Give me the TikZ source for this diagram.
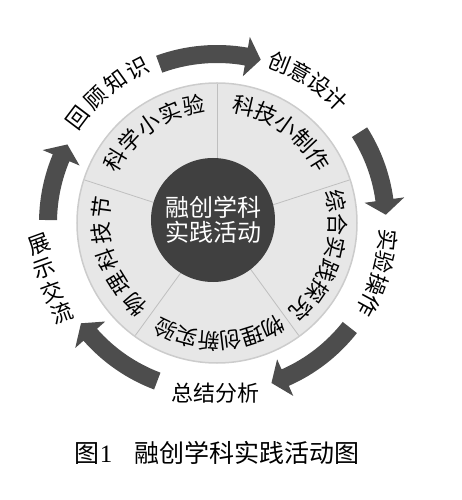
\documentclass[tikz,border=0pt]{standalone}
\usepackage{fontspec}
\setmainfont{Liberation Serif}
\newfontfamily\cjk{Noto Sans CJK SC}
\usepackage{xcolor}
\usepackage{tikz}
\usetikzlibrary{calc,positioning}
\definecolor{hubgray}{HTML}{404040}
\definecolor{ringgray}{HTML}{E7E7E7}
\definecolor{flowgray}{HTML}{4D4D4D}
\tikzstyle{glyph} = [inner sep=0pt, font=\cjk\fontsize{22}{22}\selectfont]
\tikzstyle{flow} = [fill=flowgray]

\begin{document}
\begin{tikzpicture}[
      x = 1pt, y = 1pt,
      node distance = 40pt
    ]
      \useasboundingbox (-217,-277) rectangle (244,223);
      \fill[ringgray, draw=black!20, line width=1.5pt] (0,0) circle (140pt);
      \foreach \a in {90,18,-54,-126,162}
        \draw[black!25, line width=0.8pt] (\a:55pt) -- (\a:139pt);
      \node (hub) [circle, fill=hubgray, minimum size=124pt, inner sep=0pt] at (-4,3) {};
      \node (hubtext) [glyph, text=white, align=center, font=\cjk\fontsize{24}{25}\selectfont] at (hub) {融创学科\\实践活动};
      \foreach \c [count=\i, evaluate=\i as \t using 124.8-(\i-3)*11.75] in {科,学,小,实,验}
        \node (lab\i) [glyph, rotate=\t-90] at (\t:120pt) {\c};
      \foreach \c [count=\i, evaluate=\i as \t using 54.5-(\i-3)*11.2] in {科,技,小,制,作}
        \node (make\i) [glyph, rotate=\t-90] at (\t:120pt) {\c};
      \foreach \c [count=\i, evaluate=\i as \t using -17.5-(\i-3.5)*11.3] in {综,合,实,践,探,究}
        \node (probe\i) [glyph, rotate=\t-90] at (\t:121pt) {\c};
      \foreach \c [count=\i, evaluate=\i as \t using -88.6-(\i-3.5)*10.8] in {物,理,创,新,实,验}
        \node (novel\i) [glyph, rotate=\t-90] at (\t:118pt) {\c};
      \foreach \c [count=\i, evaluate=\i as \t using 198.5-(\i-3)*13.2] in {物,理,科,技,节}
        \node (fest\i) [glyph, rotate=\t-90] at (\t:116pt) {\c};
      \foreach \c [count=\i, evaluate=\i as \t using 130-(\i-2.5)*8.6] in {回,顾,知,识}
        \node (recall\i) [glyph, rotate=\t-90] at (\t:174pt) {\c};
      \foreach \c [count=\i, evaluate=\i as \t using 57.2-(\i-2.5)*7.5] in {创,意,设,计}
        \node (design\i) [glyph, rotate=\t-90] at (\t:172pt) {\c};
      \foreach \c [count=\i, evaluate=\i as \t using -17.1-(\i-2.5)*7.6] in {实,验,操,作}
        \node (operate\i) [glyph, rotate=\t-90] at (\t:172pt) {\c};
      \foreach \c [count=\i, evaluate=\i as \t using 198.6+(\i-2.5)*7.8] in {展,示,交,流}
        \node (share\i) [glyph, rotate=20] at (\t:179pt) {\c};
      \node (summary) [glyph] at (-1.5,-170) {总结分析};
      \node (caption) [below=38pt of summary, xshift=2pt, inner sep=0pt, font=\cjk\fontsize{25}{25}\selectfont] {图{\rmfamily 1}\hspace{0.9em}融创学科实践活动图};
      \foreach \s/\e in {110/75, 32.5/2.8, -38.2/-71.2, -110.7/-143.6, 179/152.3}
        \fill[flow] (\s:178pt) arc[start angle=\s, end angle=\e+5, radius=178pt]
          -- (\e+5:189pt) -- (\e:169pt) -- (\e+5:149pt) -- (\e+5:160pt)
          arc[start angle=\e+5, end angle=\s, radius=160pt] -- cycle;
    \end{tikzpicture}
\end{document}
